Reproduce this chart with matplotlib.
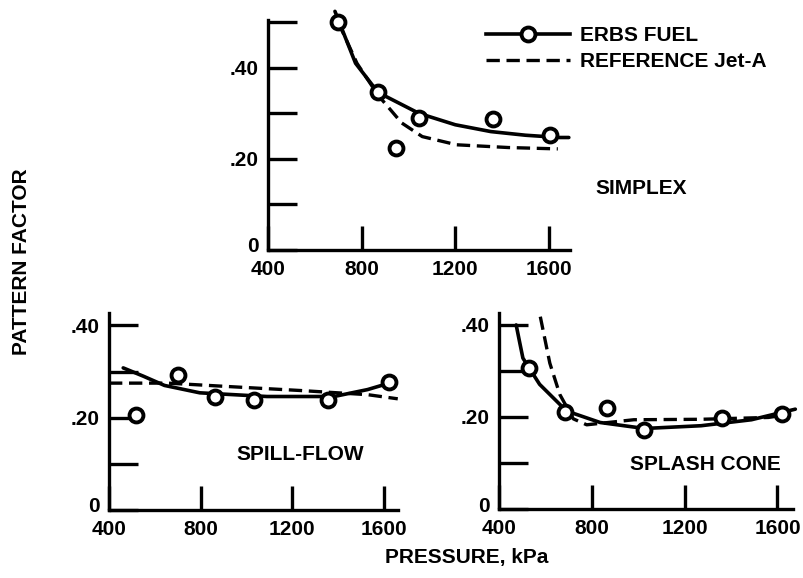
import matplotlib
matplotlib.use('Agg')
import matplotlib.pyplot as plt
import matplotlib.transforms as mtransforms
from matplotlib.lines import Line2D

plt.rcParams['font.family'] = ['Liberation Sans', 'DejaVu Sans']
plt.rcParams['font.weight'] = 'bold'

# --- SIMPLEX ---
simplex_pts_p = [700, 870, 945, 1045, 1360, 1605]
simplex_pts_pf = [0.50, 0.346, 0.224, 0.289, 0.288, 0.253]
simplex_erbs_p = [686, 774, 870, 1045, 1200, 1352, 1500, 1645, 1685]
simplex_erbs_pf = [0.524, 0.41, 0.346, 0.30, 0.275, 0.26, 0.252, 0.247, 0.247]
simplex_ref_p = [700, 780, 870, 971, 1059, 1206, 1426, 1638]
simplex_ref_pf = [0.50, 0.41, 0.34, 0.279, 0.249, 0.231, 0.225, 0.222]

# --- SPILL-FLOW ---
spill_pts_p = [517, 700, 861, 1033, 1355, 1620]
spill_pts_pf = [0.205, 0.293, 0.244, 0.239, 0.239, 0.277]
spill_erbs_p = [462, 550, 642, 796, 1089, 1382, 1528, 1623]
spill_erbs_pf = [0.308, 0.29, 0.27, 0.254, 0.246, 0.246, 0.261, 0.275]
spill_ref_p = [400, 656, 942, 1235, 1528, 1660]
spill_ref_pf = [0.275, 0.275, 0.267, 0.259, 0.25, 0.241]

# --- SPLASH CONE ---
splash_pts_p = [529, 684, 865, 1027, 1361, 1619]
splash_pts_pf = [0.307, 0.211, 0.219, 0.172, 0.198, 0.206]
splash_erbs_p = [474, 490, 503, 575, 691, 836, 1027, 1271, 1488, 1677]
splash_erbs_pf = [0.40, 0.36, 0.328, 0.271, 0.213, 0.188, 0.175, 0.181, 0.194, 0.217]
splash_ref_p = [578, 619, 662, 720, 778, 981, 1271, 1561, 1640]
splash_ref_pf = [0.418, 0.317, 0.249, 0.196, 0.183, 0.194, 0.195, 0.199, 0.205]

W, H = 804, 578
FS = 15
fig = plt.figure(figsize=(W / 100, H / 100), dpi=100)


def px_axes(left, bottom, right, top):
    return fig.add_axes([left / W, 1 - bottom / H, (right - left) / W, (bottom - top) / H])


def style_axes(ax, xmax, ymax):
    ax.set_xlim(400, xmax)
    ax.set_ylim(0, ymax)
    for s in ('top', 'right'):
        ax.spines[s].set_visible(False)
    for s in ('left', 'bottom'):
        ax.spines[s].set_linewidth(2.4)
    ax.set_xticks([400, 800, 1200, 1600])
    ax.set_xticklabels(['400', '800', '1200', '1600'])
    yt = [0, 0.1, 0.2, 0.3, 0.4] + ([0.5] if ymax >= 0.5 else [])
    ax.set_yticks(yt)
    ax.set_yticklabels(['0', '', '.20', '', '.40', ''][:len(yt)])
    ax.tick_params(axis='x', direction='in', length=17, width=2.4, pad=7, labelsize=FS)
    ax.tick_params(axis='y', direction='in', length=21, width=2.4, pad=7, labelsize=FS)
    # the "0" sits a little above the corner, as in the original
    zero = ax.get_yticklabels()[0]
    zero.set_transform(zero.get_transform() +
                       mtransforms.ScaledTranslation(0, 5 / 100, fig.dpi_scale_trans))
    ax.patch.set_alpha(0)


def draw(ax, pts_p, pts_pf, erbs_p, erbs_pf, ref_p, ref_pf):
    ax.plot(erbs_p, erbs_pf, color='black', lw=2.6, solid_capstyle='round', clip_on=False)
    ax.plot(ref_p, ref_pf, color='black', lw=2.4, linestyle=(0, (4, 2)), clip_on=False)
    ax.plot(pts_p, pts_pf, linestyle='none', marker='o', ms=10, mfc='white',
            mec='black', mew=2.8, zorder=5, clip_on=False)


ax_top = px_axes(268, 250, 570, 20)
style_axes(ax_top, 1690, 0.505)
draw(ax_top, simplex_pts_p, simplex_pts_pf, simplex_erbs_p, simplex_erbs_pf,
     simplex_ref_p, simplex_ref_pf)

ax_spill = px_axes(109, 510, 398, 313)
style_axes(ax_spill, 1661, 0.427)
draw(ax_spill, spill_pts_p, spill_pts_pf, spill_erbs_p, spill_erbs_pf,
     spill_ref_p, spill_ref_pf)

ax_splash = px_axes(499, 509, 793, 313)
style_axes(ax_splash, 1667, 0.426)
draw(ax_splash, splash_pts_p, splash_pts_pf, splash_erbs_p, splash_erbs_pf,
     splash_ref_p, splash_ref_pf)

fig.text(641 / W, 1 - 188 / H, 'SIMPLEX', ha='center', va='center', fontsize=FS)
fig.text(300 / W, 1 - 455 / H, 'SPILL-FLOW', ha='center', va='center', fontsize=FS)
fig.text(705 / W, 1 - 465 / H, 'SPLASH CONE', ha='center', va='center', fontsize=FS)
fig.text(22 / W, 1 - 262 / H, 'PATTERN FACTOR', rotation=90, ha='center', va='center', fontsize=FS)
fig.text(467 / W, 1 - 557 / H, 'PRESSURE, kPa', ha='center', va='center', fontsize=FS)

handles = [
    Line2D([], [], color='black', lw=2.6, marker='o', ms=10, mfc='white', mec='black', mew=2.8),
    Line2D([], [], color='black', lw=2.4, linestyle=(0, (4, 2))),
]
fig.legend(handles, ['ERBS FUEL', 'REFERENCE Jet-A'], loc='upper left',
           bbox_to_anchor=(482 / W, 1 - 22 / H), frameon=False, numpoints=1,
           handlelength=4.0, handletextpad=0.5, labelspacing=0.35, fontsize=FS,
           borderaxespad=0, borderpad=0.2)

fig.savefig('out.png', dpi=100)
